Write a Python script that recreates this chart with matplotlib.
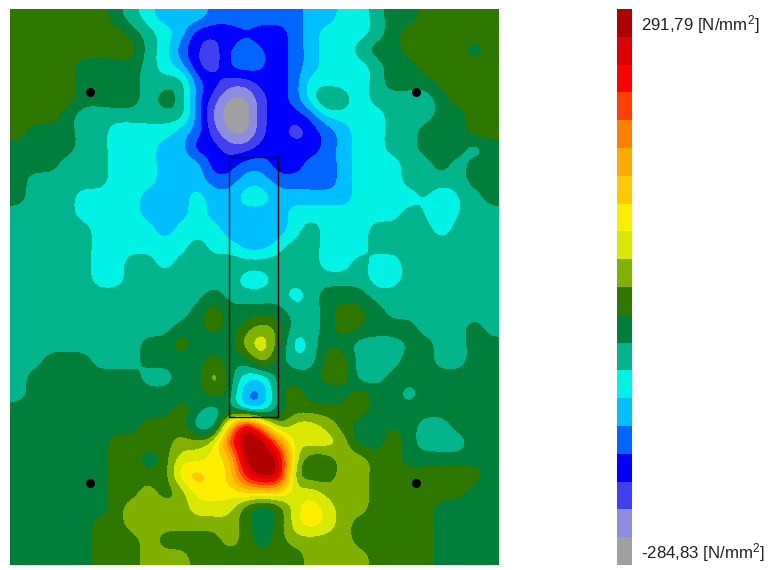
import matplotlib
matplotlib.use('Agg')
import matplotlib.pyplot as plt
import numpy as np
from matplotlib.colors import BoundaryNorm, ListedColormap

plt.rcParams['font.family'] = ['Liberation Sans', 'DejaVu Sans']
plt.rcParams['mathtext.default'] = 'regular'

stress_min = -284.83
stress_max = 291.79
unit_label = '[N/mm$^{2}$]'
max_label = '291,79 ' + unit_label
min_label = '-284,83 ' + unit_label

# legend colours, lowest band first
band_colors = ['#a0a0a0', '#8c8ce0', '#4040f0', '#0000ff', '#0066ff',
               '#00bfff', '#00f2e4', '#00b48c', '#007f3a', '#2e7800',
               '#80b000', '#d8e800', '#ffee00', '#ffc800', '#ffaa00',
               '#ff8000', '#ff4000', '#ff0000', '#dc0000', '#b00000']

# band number, on a 30 x 34 raster of the plate
plate_bands = [
    [9,9,9,9,9,9,8,7,6,5,5,5,4,4,4,4,4,4,5,5,6,6,7,8,8,9,9,9,9,9],
    [9,9,9,9,9,9,9,8,7,6,5,3,2.8,3,3.4,3,3,4,5,6,6,6,7,8,9,9,9,9,9,9],
    [9,9,9,9,9,9,9,9,7,6,4,2.7,2,3.5,4,3.6,3,4,5,6,6,7,8,8,9,9,9,9,8,9],
    [9,9,9,9,8,8,8,8,7,6,5,2.7,2,3.5,4,3.6,3,4,5,6,6,6,7,8,8,9,9,9,9,9],
    [9,9,9,9,8,8,8,8,7,7,7,4,3,2,2,3,3,4,6,6,6,6,7,8,8,8,9,9,9,9],
    [9,9,9,9,8,8,8,8,7,8,7,4,2,0.4,0.4,2.3,3,4,6,7.8,7,6,7,7,7,7,8,9,9,9],
    [9,9,9,8,7,7,7,7,7,7,7,4,1.4,0,0,2.3,3,3,4,5.7,6,6,6,7,7,7,8,8,9,9],
    [9,8,8,8,7,7,6,6,6,6,5,4,2,0.4,0.4,2.3,3,2,3,4,5,6,6,7,7,8,8,8,9,9],
    [8,8,8,8,7,7,6,6,6,5,5,3,3,2,2,3,3,3,3,4,5,6,6,7,7,8,8,8,7,8],
    [8,8,8,7,7,7,6,6,6,5,5,5,3,3,4,4,3,3,4,4,5,6,6,6,7,7,8,7,8,8],
    [8,7,7,7,7,7,6,6,6,5,5,5,4,4,5,5,4,4,4,4,5,6,6,6,7,7,7,7,8,8],
    [8,7,7,7,6,6,6,6,5,5,5,6,5,5,6,6,5,5,5,5,5,6,6,6,6,6.6,5.8,6.5,7,8],
    [7,7,7,7,6,6,6,6,5,5,5,6,5,5,5,5,5,6,6,6,6,6,6,6,7,6.4,5.8,6.5,7,7],
    [7,7,7,7,7,6,6,6,6,5,6,6,6,5,5,5,5,6,7,6,6,6,7,7,7,7,6,7,7,7],
    [7,7,7,7,7,6,6,6,6,6,6,7,6,6,5,5,6,7,7,6,6,6,7,7,7,7,7,7,7,7],
    [7,7,7,7,7,6,6,7,7,6,7,7,7,7,7,7,7,7.7,7,6,6,7,6,6,7,7,7,7,7,7],
    [7,7,7,7,7,6,6,7,7,7,7,7,7,7,6,6,7,7,7,7,7,7,6,6,7,7,7,7,7,7],
    [7,7,7,7,7,7,7,7,7,7,7,7,8,7,7,7,7,6,7,8,8,8,7,7,7,7,7,7,7,7],
    [7,7,7,7,7,7,7,7,7,7,7,8,9,8,8,8,8,7,7,8,9,8.6,8,7,7,7,7,7,7,7],
    [7,7,7,7,7,7,7,7,7,7,8,8,9,8,9,10,9,7,7,8,9,8.5,8,8,8,7,7,7,8,7],
    [7,7,7,7,7,7,7,7,8,8,9,8,8,8,10,11,9,6,7,8.4,8,7,7,7,7.6,8,7,7,8,8],
    [7,7,8,8,8,7,7,7,8,8,8,8,9,8,8,10,8,7,7,9,9,7,6.4,7,8,8,7,7,8,8],
    [7,8,8,8,8,8,8,8,7,7,8,8,10,8,6,6,8,8,8,9,9,7,7,8,8,8,8,8,8,8],
    [7,8,8,8,8,8,8,8,8,8,8,8,9,8,4.7,4.7,8,9,8,8,8,9,8,8,7,8,8,8,8,8],
    [8,8,8,8,8,8,8,8,8,8,9,8,7,8,6,6,8,9,9,9,9,9,8,8,8,8,8,8,8,8],
    [8,8,8,8,8,8,8,8,9,9,9,7,7,13,18,14,10,11,11,10,9,8,8,8.5,8,7,7,8,8,8],
    [8,8,8,8,8,8,9,9,9,9,10,10,11,16,19,19,15,11,11,11,10,8,8,9,8,7,7,7,8,8],
    [8,8,8,8,8,8,9,9,8,9,11,11,12,13,19,19,18,11,9,9,10,10,9,9,8,8,8,8,8,8],
    [8,8,8,8,8,8,9,9,9,9,12,13,12,13,17,19,18,10,9,9,10,10,9,9,9,9,9,9,9,8],
    [8,8,8,8,8,8,9,9,10,9,10,12,12,12,13,13,13,11,11,10,10,10,9,9,9,9,9,9,8,8],
    [8,8,8,8,8,8,9,10,10,10,10,11,11,11,9,8,9,11,12,11,10,10,9,9,9,9,8,8,8,8],
    [8,8,8,8,8,9,9,10,10,10,10,10,10,10,9,8,9,11,12,11,10,9,9,9,9,9,8,8,8,8],
    [8,8,8,8,8,9,9,9,10,9,9,9,9,10,9,8,9,10,10,10,10,9,9,9,9,9,8,8,8,8],
    [8,8,8,8,8,9,9,9,10,10,10,9,9,9,9,9,9,9,10,10,10,10,9,9,9,9,8,8,8,8],
]

# column locations in plate coordinates (px of the reference)
support_x = [90, 416, 90, 416]
support_y = [92, 92, 483, 483]
column_x = [229, 278]
column_y = [157, 417]


def sharpen(bands, a=0.13):
    '''Поджимает сетку, чтобы bicubic не съедал мелкие пятна'''
    z = np.pad(bands, 1, mode='edge')
    z = (1 + 2 * a) * z - a * (np.roll(z, 1, axis=0) + np.roll(z, -1, axis=0))
    z = (1 + 2 * a) * z - a * (np.roll(z, 1, axis=1) + np.roll(z, -1, axis=1))
    return z[1:-1, 1:-1]


W, H = 771, 570
fig = plt.figure(figsize=(W / 100, H / 100), dpi=100)

levels = np.linspace(stress_min, stress_max, len(band_colors) + 1)
step = levels[1] - levels[0]
cmap = ListedColormap(band_colors)
norm = BoundaryNorm(levels, cmap.N)

stress = stress_min + (sharpen(np.array(plate_bands, dtype=float)) + 0.5) * step

# plate
ax = fig.add_axes([10 / W, 1 - 565 / H, 489 / W, 556 / H])
ax.imshow(stress, cmap=cmap, norm=norm, interpolation='bicubic',
          interpolation_stage='data', extent=(10, 499, 565, 9), aspect='auto')
ax.plot(support_x, support_y, 'o', color='black', ms=6.5, mew=0)
ax.plot([column_x[0], column_x[1], column_x[1], column_x[0], column_x[0]],
        [column_y[0], column_y[0], column_y[1], column_y[1], column_y[0]],
        color='black', lw=1)
ax.set_xlim(10, 499)
ax.set_ylim(565, 9)
ax.axis('off')

# legend strip
cax = fig.add_axes([617 / W, 1 - 565 / H, 15 / W, 556 / H])
cax.pcolormesh([0, 1], levels, np.array([levels[:-1] + step / 2]).T, cmap=cmap, norm=norm)
cax.set_ylim(stress_min, stress_max)
cax.axis('off')

fig.text(641 / W, 1 - 25 / H, max_label, fontsize=12.2, color='#222222', va='center', ha='left')
fig.text(641 / W, 1 - 553 / H, min_label, fontsize=12.2, color='#222222', va='center', ha='left')

fig.savefig('out.png', dpi=100, facecolor='white')
